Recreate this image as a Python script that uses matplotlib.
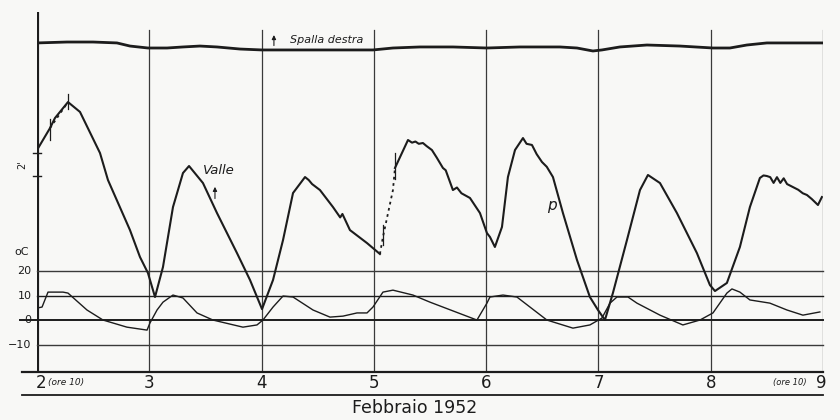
import matplotlib.pyplot as plt

# Giorni (febbraio 1952) e registrazioni
days = [2, 3, 4, 5, 6, 7, 8, 9]

# Rotazione "Spalla destra" (primi d'arco, zero arbitrario)
spalla_t = [2.0, 2.267, 2.499, 2.712, 2.828, 2.988, 3.158, 3.300, 3.451, 3.603,
            3.808, 4.004, 4.191, 4.493, 4.787, 4.992, 5.170, 5.410, 5.704, 6.007,
            6.301, 6.657, 6.809, 6.951, 7.031, 7.191, 7.432, 7.726, 8.020, 8.171,
            8.322, 8.500, 8.732, 9.0]
spalla_v = [11.57, 11.65, 11.65, 11.57, 11.30, 11.13, 11.13, 11.22, 11.30, 11.22,
            11.04, 10.96, 10.96, 10.96, 10.96, 10.96, 11.13, 11.22, 11.22, 11.13,
            11.22, 11.22, 11.13, 10.87, 10.96, 11.22, 11.39, 11.30, 11.13, 11.13,
            11.39, 11.57, 11.57, 11.57]

# Rotazione "Valle" (primi d'arco)
valle_t = [2.0, 2.116, 2.160, 2.276, 2.383, 2.561, 2.632, 2.828, 2.917, 2.988,
           3.051, 3.122, 3.211, 3.300, 3.354, 3.478, 3.603, 3.781, 3.897, 4.004,
           4.102, 4.191, 4.280, 4.387, 4.420, 4.450, 4.520, 4.636, 4.700, 4.720,
           4.787, 4.939, 5.054]
valle_v = [2.26, 4.17, 5.04, 6.43, 5.57, 2.00, -0.35, -4.70, -7.04, -8.43,
           -10.52, -7.91, -2.70, 0.26, 0.87, -0.61, -3.22, -6.70, -9.04, -11.57,
           -9.04, -5.57, -1.48, -0.09, -0.35, -0.70, -1.22, -2.70, -3.60, -3.30,
           -4.70, -5.83, -6.78]
valle_t2 = [5.188, 5.304, 5.340, 5.370, 5.400, 5.437, 5.470, 5.517, 5.560, 5.615,
            5.640, 5.704, 5.740, 5.780, 5.856, 5.945, 6.007, 6.034, 6.078, 6.141,
            6.194, 6.257, 6.328, 6.360, 6.408, 6.450, 6.497, 6.540, 6.595, 6.684,
            6.809, 6.924, 6.996, 7.058, 7.129, 7.254, 7.370, 7.441, 7.548, 7.699,
            7.877, 7.993, 8.038, 8.144, 8.260, 8.349, 8.438, 8.470, 8.500, 8.530,
            8.560, 8.590, 8.620, 8.650, 8.680, 8.732, 8.780, 8.820, 8.857, 8.900,
            8.955, 8.990]
valle_v2 = [0.70, 3.13, 2.90, 3.00, 2.80, 2.87, 2.60, 2.26, 1.60, 0.70,
            0.50, -1.22, -1.00, -1.50, -1.91, -3.22, -4.96, -5.30, -6.17, -4.43,
            -0.09, 2.26, 3.30, 2.80, 2.70, 1.90, 1.22, 0.80, -0.09, -3.22,
            -7.30, -10.52, -11.65, -12.52, -10.17, -5.57, -1.22, 0.09, -0.61, -3.22,
            -6.70, -9.48, -10.0, -9.30, -6.17, -2.70, -0.17, 0.05, 0.0, -0.10,
            -0.60, -0.10, -0.60, -0.20, -0.70, -0.96, -1.20, -1.50, -1.65, -2.00,
            -2.52, -1.83]
# tratti interrotti (punteggiati)
dot1_t = [2.116, 2.276]
dot1_v = [4.17, 6.43]
dot2_t = [5.054, 5.081, 5.170, 5.188]
dot2_v = [-6.78, -5.30, -1.22, 0.70]

# Temperatura dell'aria (gradi C)
temp_t = [2.0, 2.045, 2.098, 2.232, 2.276, 2.445, 2.588, 2.801, 2.980, 3.006,
          3.069, 3.122, 3.211, 3.300, 3.425, 3.567, 3.834, 3.959, 4.012, 4.102,
          4.191, 4.280, 4.458, 4.609, 4.725, 4.850, 4.939, 4.992, 5.081, 5.170,
          5.348, 5.500, 5.918, 6.007, 6.034, 6.150, 6.274, 6.541, 6.773, 6.924,
          7.031, 7.103, 7.165, 7.263, 7.343, 7.548, 7.752, 7.904, 8.020, 8.144,
          8.189, 8.260, 8.349, 8.527, 8.679, 8.821, 8.972]
temp_c = [4.9, 5.3, 11.4, 11.4, 11.0, 4.1, 0.0, -2.9, -4.1, -1.2,
          4.1, 7.3, 10.2, 9.0, 2.9, 0.0, -2.9, -2.0, 0.0, 5.3,
          9.8, 9.4, 4.1, 1.2, 1.6, 2.9, 2.9, 5.3, 11.4, 12.2,
          10.2, 7.3, 0.0, 6.9, 9.4, 10.2, 9.4, 0.0, -3.3, -2.0,
          0.8, 6.9, 9.4, 9.4, 6.9, 2.0, -2.0, 0.0, 2.9, 11.0,
          12.7, 11.4, 8.2, 6.9, 4.1, 2.0, 3.3]
temp_levels = [20, 10, 0, -10]

ink = '#1c1c1c'
bg = '#f8f8f6'

fig = plt.figure(figsize=(8.4, 4.2), dpi=100, facecolor=bg)
ax = fig.add_axes([37 / 840, 1 - 372 / 420, 786 / 840, 360 / 420])
ax.set_facecolor('none')
ax.set_xlim(2, 9)
ax.set_ylim(-21.2, 125.7)
ax2 = ax.twinx()
ax2.set_ylim(-17.04, 14.26)
for a in (ax, ax2):
    for s in a.spines.values():
        s.set_visible(False)
    a.set_xticks([])
    a.set_yticks([])

# righe dei giorni
for d in days[1:]:
    ax.axvline(d, ymin=0, ymax=0.95, color='#3a3a3a', lw=0.9)
ax.axvline(2, ymin=0, ymax=1, color=ink, lw=3)

# righe delle temperature
for lev in temp_levels:
    lw = 1.4 if lev == 0 else 1.0
    x0 = 1.85 if lev == 0 else 2
    ax.plot([x0, 9], [lev, lev], color=ink if lev in (0, 10) else '#3a3a3a',
            lw=lw, clip_on=False)
    ax.text(1.95, lev, str(lev).replace('-', '\u2212'), ha='right', va='center',
            fontsize=8, color=ink)
ax.text(1.86, 27.8, 'oC', ha='center', va='center', fontsize=8, color=ink)

# curve
ax.plot(temp_t, temp_c, color=ink, lw=1.0)
ax2.plot(spalla_t, spalla_v, color=ink, lw=2.0)
ax2.plot(valle_t, valle_v, color=ink, lw=1.5)
ax2.plot(valle_t2, valle_v2, color=ink, lw=1.5)
ax2.plot(dot1_t, dot1_v, color=ink, lw=1.3, ls=(0, (1.5, 2)))
ax2.plot(dot2_t, dot2_v, color=ink, lw=1.3, ls=(0, (1.5, 2)))

# segni verticali sulle curve
for t, v0, v1 in [(2.116, 3.1, 5.0), (2.276, 5.8, 7.1), (5.188, -0.3, 2.0), (5.081, -6.0, -4.3)]:
    ax2.plot([t, t], [v0, v1], color=ink, lw=0.9)

# scala dei primi sull'asse sinistro
for v in (0, 2):
    ax2.plot([1.965, 2.035], [v, v], color=ink, lw=1.0, clip_on=False)
ax2.text(1.866, 0.96, "2'", rotation=90, ha='center', va='center', fontsize=7, color=ink)

# scritte
ax2.text(4.253, 11.83, 'Spalla destra', style='italic', fontsize=8, color=ink, va='center')
ax2.annotate('', xy=(4.11, 12.5), xytext=(4.11, 11.1),
             arrowprops=dict(arrowstyle='-|>', color=ink, lw=0.8, mutation_scale=6))
ax2.text(3.478, 0.52, 'Valle', style='italic', fontsize=9.5, color=ink, va='center')
ax2.annotate('', xy=(3.585, -0.7), xytext=(3.585, -2.2),
             arrowprops=dict(arrowstyle='-|>', color=ink, lw=0.8, mutation_scale=6))
ax2.text(6.54, -2.6, 'p', style='italic', fontsize=11, color=ink, va='center')

# linee di base e date
fig.add_artist(plt.Line2D([22 / 840, 823 / 840], [1 - 372 / 420] * 2, color=ink, lw=1.6))
fig.add_artist(plt.Line2D([22 / 840, 823 / 840], [1 - 395 / 420] * 2, color=ink, lw=1.3))
tr = ax.get_xaxis_transform()
for d in days:
    x = d + 0.04 if d == 2 else (d - 0.02 if d == 9 else d)
    ax.text(x, -0.03, str(d), transform=tr, ha='center', va='center', fontsize=12, color=ink)
ax.text(2.1, -0.03, '(ore 10)', transform=tr, ha='left', va='center',
        style='italic', fontsize=6.5, color=ink)
ax.text(8.85, -0.03, '(ore 10)', transform=tr, ha='right', va='center',
        style='italic', fontsize=6, color=ink)
fig.text(415 / 840, 1 - 408 / 420, 'Febbraio 1952', ha='center', va='center',
         fontsize=12.5, color=ink)

fig.savefig('out.png', dpi=100, facecolor=bg)
